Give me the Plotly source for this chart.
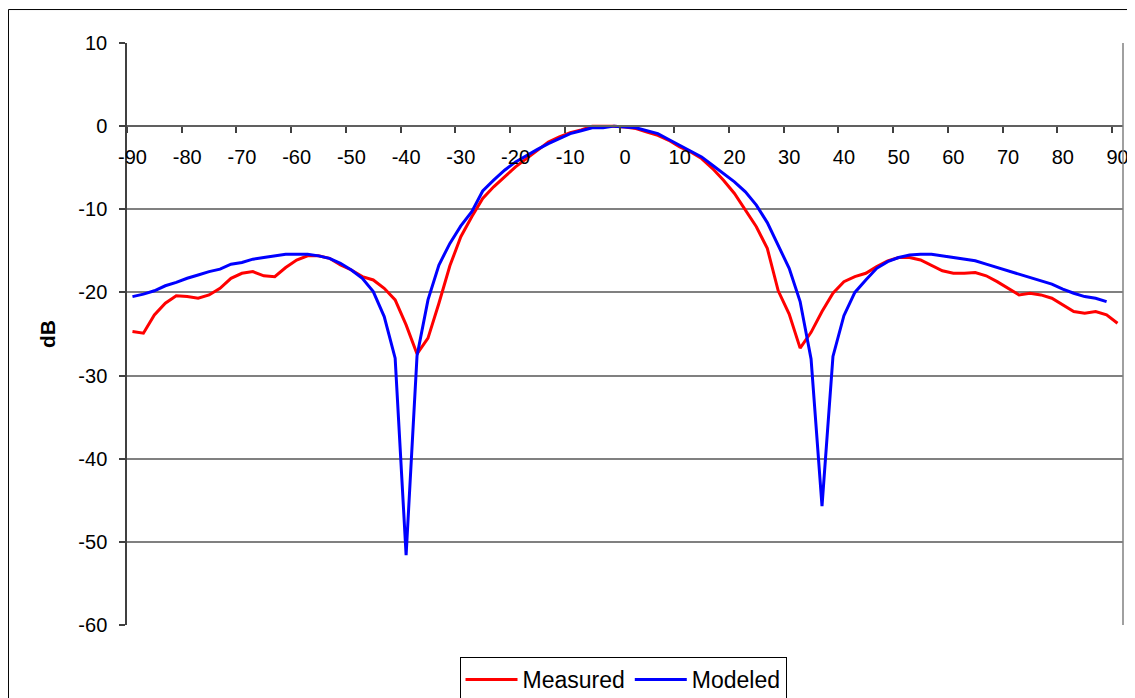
"""
Beam pattern: measured vs modeled response (dB) over angle
"""
import plotly.graph_objects as go


# ── Data ───────────────────────────────────────────────────────────────
ANGLES = [
    -90, -88, -86, -84, -82, -80, -78, -76, -74, -72,
    -70, -68, -66, -64, -62, -60, -58, -56, -54, -52,
    -50, -48, -46, -44, -42, -40, -38, -36, -34, -32,
    -30, -28, -26, -24, -22, -20, -18, -16, -14, -12,
    -10, -8, -6, -4, -2, 0, 2, 4, 6, 8,
    10, 12, 14, 16, 18, 20, 22, 24, 26, 28,
    30, 32, 34, 36, 38, 40, 42, 44, 46, 48,
    50, 52, 54, 56, 58, 60, 62, 64, 66, 68,
    70, 72, 74, 76, 78, 80, 82, 84, 86, 88,
    90,
]

measured = [
    -24.7, -24.9, -22.7, -21.3, -20.4, -20.5, -20.7, -20.3, -19.5, -18.3,
    -17.7, -17.5, -18.0, -18.1, -17.0, -16.1, -15.6, -15.6, -15.9, -16.7,
    -17.3, -18.1, -18.5, -19.5, -20.9, -23.9, -27.4, -25.5, -21.3, -16.8,
    -13.3, -10.9, -8.7, -7.3, -6.1, -4.9, -3.9, -2.9, -1.9, -1.3,
    -0.8, -0.45, 0.0, 0.0, 0.0, -0.1, -0.3, -0.7, -1.1, -1.7,
    -2.5, -3.1, -3.9, -5.1, -6.5, -8.1, -10.1, -12.1, -14.7, -19.8,
    -22.6, -26.7, -24.8, -22.3, -20.1, -18.7, -18.1, -17.7, -16.9, -16.2,
    -15.8, -15.8, -16.1, -16.8, -17.4, -17.7, -17.7, -17.6, -18.0, -18.7,
    -19.5, -20.3, -20.1, -20.3, -20.7, -21.5, -22.3, -22.5, -22.3, -22.7,
    -23.7,
]

modeled = [
    -20.5, -20.2, -19.8, -19.2, -18.8, -18.3, -17.9, -17.5, -17.2, -16.6,
    -16.4, -16.0, -15.8, -15.6, -15.4, -15.4, -15.4, -15.6, -15.9, -16.5,
    -17.3, -18.3, -19.9, -22.9, -27.9, -51.6, -27.6, -20.9, -16.7, -14.1,
    -12.0, -10.3, -7.8, -6.5, -5.3, -4.3, -3.5, -2.8, -2.1, -1.5,
    -0.9, -0.55, -0.2, -0.2, 0.0, -0.1, -0.2, -0.55, -0.9, -1.6,
    -2.3, -2.9, -3.7, -4.7, -5.7, -6.7, -7.9, -9.5, -11.6, -14.4,
    -17.1, -21.1, -28.0, -45.7, -27.7, -22.8, -20.0, -18.5, -17.1, -16.3,
    -15.8, -15.5, -15.4, -15.4, -15.6, -15.8, -16.0, -16.2, -16.6, -17.0,
    -17.4, -17.8, -18.2, -18.6, -19.0, -19.6, -20.1, -20.5, -20.7, -21.1,
    None,
]

x_tick_vals = [-90, -80, -70, -60, -50, -40, -30, -20, -10, 0, 10, 20, 30, 40, 50, 60, 70, 80, 90]
x_tick_text = ["-90", "-80", "-70", "-60", "-50", "-40", "-30", "-20", "-10", "0",
               "10", "20", "30", "40", "50", "60", "70", "80", "90"]
y_tick_vals = [10, 0, -10, -20, -30, -40, -50, -60]
y_tick_text = ["10", "0", "-10", "-20", "-30", "-40", "-50", "-60"]

FONT = "Arial, Liberation Sans, sans-serif"
GRID = "#808080"

fig = go.Figure()

fig.add_trace(go.Scatter(
    x=ANGLES, y=measured,
    mode="lines",
    name="Measured",
    line=dict(color="#ff0000", width=3),
))

fig.add_trace(go.Scatter(
    x=ANGLES, y=modeled,
    mode="lines",
    name="Modeled",
    line=dict(color="#0000ff", width=3),
))

# plot-area right edge and outer chart frame (frame runs off the bottom/right)
fig.add_shape(type="line", xref="paper", yref="paper",
              x0=1, x1=1, y0=0, y1=1, line=dict(color=GRID, width=1.5))
fig.add_shape(type="rect", xref="paper", yref="paper",
              x0=-0.119, x1=1.03, y0=-0.2, y1=1.0575,
              line=dict(color="black", width=1))

# page body adds an 8px margin, so the figure is 8px short of the window
fig.update_layout(
    width=1127, height=690,
    paper_bgcolor="white",
    plot_bgcolor="white",
    font=dict(family=FONT, color="black", size=20),
    margin=dict(l=119, r=12, t=35, b=73),
    showlegend=True,
    legend=dict(
        orientation="h",
        x=0.498, xanchor="center",
        yref="container", y=0.0594, yanchor="top",
        bordercolor="black", borderwidth=1,
        bgcolor="white",
        font=dict(size=23),
        itemwidth=52,
    ),
    hovermode="x",
)

fig.update_xaxes(
    range=[-91, 91],
    automargin=False,
    tickmode="array", tickvals=x_tick_vals, ticktext=x_tick_text,
    ticks="",
    ticklabelstandoff=13,
    minor=dict(tickmode="linear", tick0=-91, dtick=10, ticks="outside",
               ticklen=6, tickwidth=1.5, tickcolor="#404040", showgrid=False),
    showgrid=False, zeroline=False,
    showline=True, linecolor="#606060", linewidth=1.5,
    anchor="free", position=60 / 70,
)
fig.update_yaxes(
    range=[-60, 10],
    automargin=False,
    tickmode="array", tickvals=y_tick_vals, ticktext=y_tick_text,
    ticks="outside", ticklen=6, tickwidth=1.5, tickcolor="#404040",
    ticklabelstandoff=8,
    showgrid=True, gridcolor=GRID, gridwidth=1.5,
    zeroline=False,
    showline=True, linecolor="#404040", linewidth=1.5,
    title=dict(text="<b>dB</b>", font=dict(size=21), standoff=17),
)

fig.write_html("out.html")
